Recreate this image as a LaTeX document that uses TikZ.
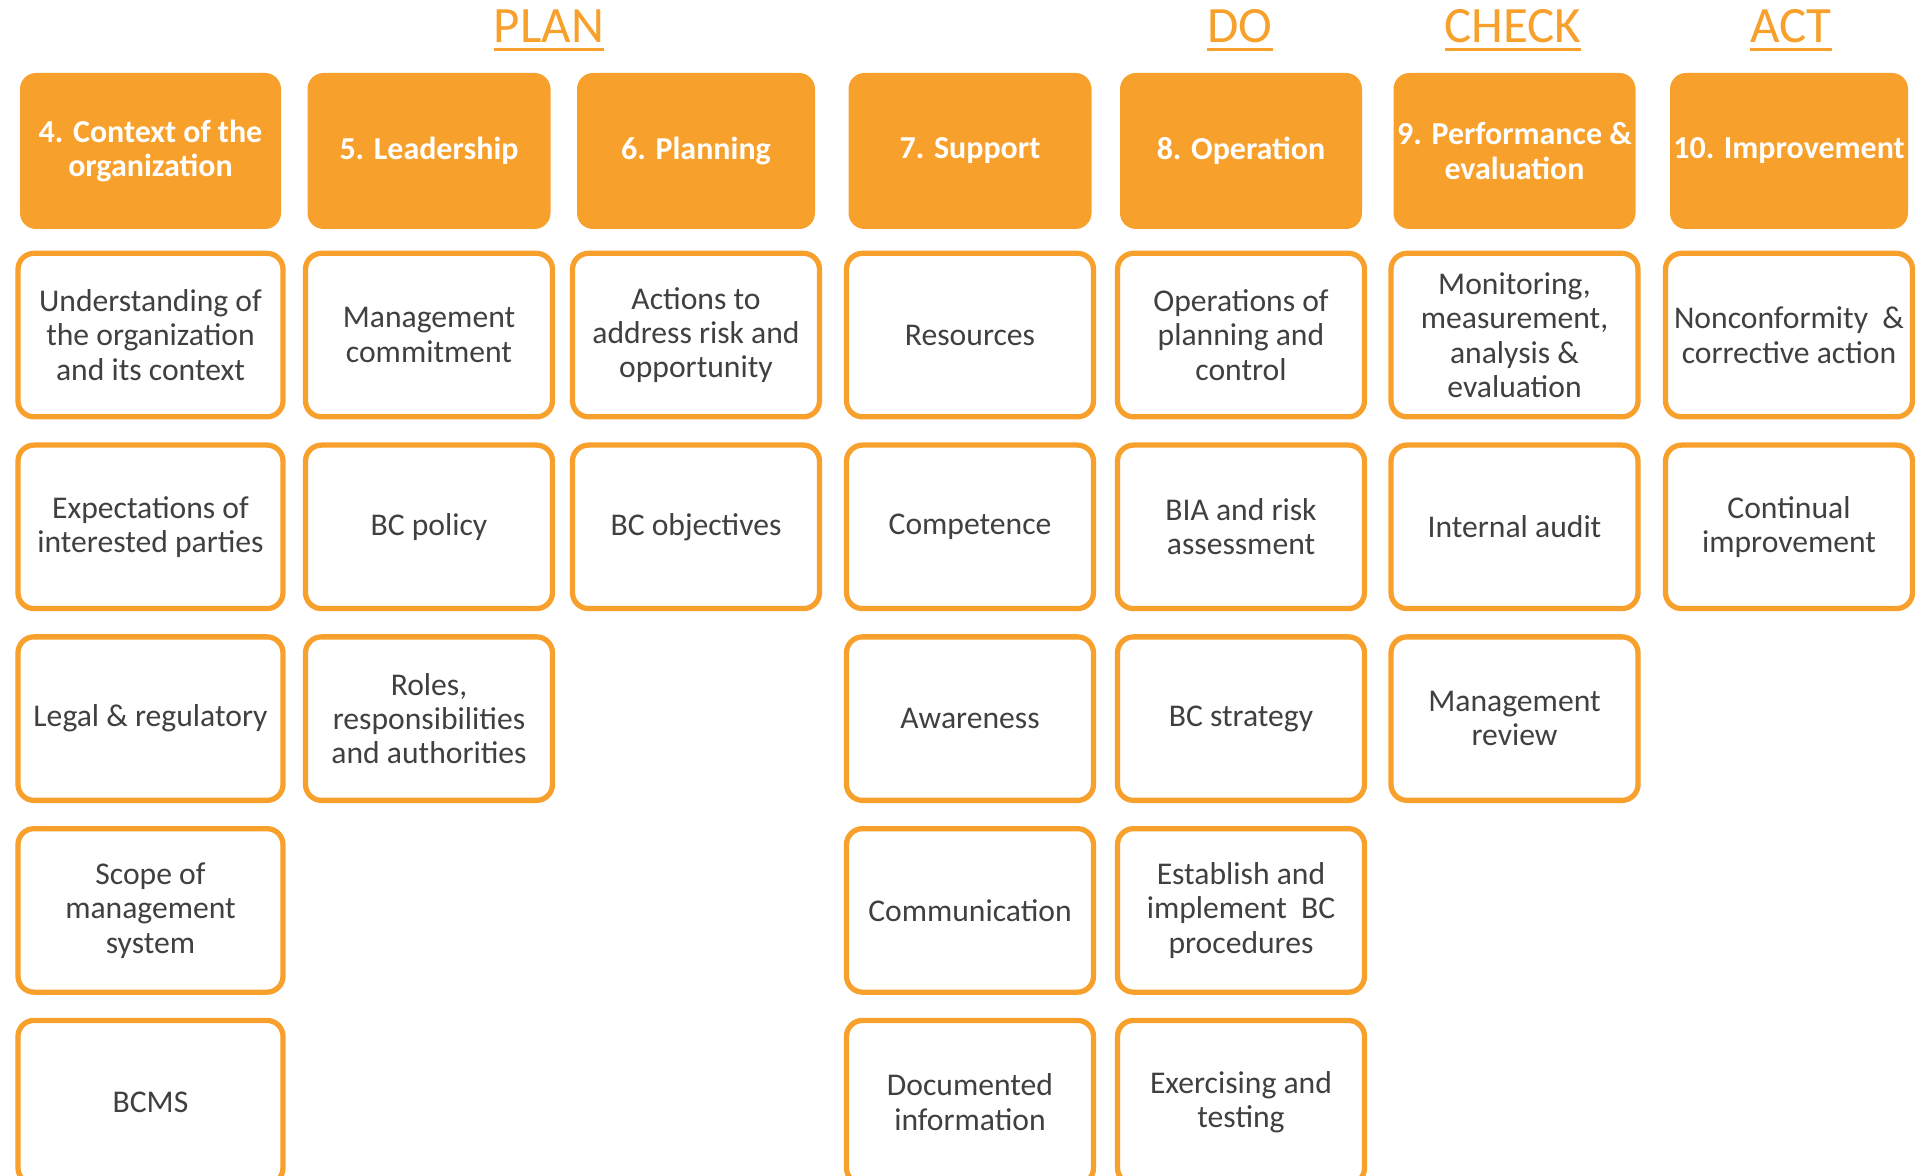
\documentclass[tikz,border=0pt]{standalone}
\usepackage{fontspec}
\setmainfont{Carlito}
\usepackage{tikz}
\usetikzlibrary{positioning}
\definecolor{pdcaorange}{HTML}{F8A02C}
\definecolor{txtgris}{HTML}{404040}
% phase title with a thick underline
\newcommand{\phul}[1]{\setbox0\hbox{#1}\rlap{\usebox0}\rule[-2.4pt]{\wd0}{1.1pt}}
\tikzset{
  clause/.style={rectangle, rounded corners=1.6mm, fill=pdcaorange, text=white,
                 align=center, font=\fontsize{9.1}{9.8}\selectfont\bfseries,
                 minimum height=1.56cm, inner sep=0pt},
  item/.style={rectangle, rounded corners=1.6mm, draw=pdcaorange, line width=1.5pt,
               fill=white, text=txtgris, align=center, font=\fontsize{9}{9.8}\selectfont,
               minimum width=2.47cm, minimum height=1.635cm, inner sep=0pt},
  phase/.style={anchor=base, text=pdcaorange, font=\fontsize{14.5}{17}\selectfont},
}

\begin{document}
\begin{tikzpicture}[node distance=2.3mm]
  \useasboundingbox (0,0) rectangle (19.17,-11.76);

  % PDCA phases
  \node[phase] (plan)  at (5.49,-0.43)  {\phul{PLAN}};
  \node[phase] (do)    at (12.40,-0.43) {\phul{DO}};
  \node[phase] (check) at (15.13,-0.43) {\phul{CHECK}};
  \node[phase] (act)   at (17.91,-0.43) {\phul{ACT}};

  % clauses 4 to 10
  \node[clause, minimum width=2.61cm] (c4)  at (1.505,-1.51) {4. Context of the\\organization};
  \node[clause, minimum width=2.43cm] (c5)  at (4.29,-1.51)  {5. Leadership};
  \node[clause, minimum width=2.38cm] (c6)  at (6.96,-1.51)  {6. Planning};
  \node[clause, minimum width=2.43cm] (c7)  at (9.70,-1.51)  {7. Support};
  \node[clause, minimum width=2.42cm] (c8)  at (12.41,-1.51) {8. Operation};
  \node[clause, minimum width=2.42cm] (c9)  at (15.145,-1.51) {9. Performance \&\\evaluation};
  \node[clause, minimum width=2.38cm] (c10) at (17.89,-1.51) {10. Improvement};

  % 4. context
  \node[item, minimum width=2.65cm, below=2.1mm of c4] (c4a) {Understanding of\\the organization\\and its context};
  \node[item, minimum width=2.65cm, below=of c4a] (c4b) {Expectations of\\interested parties};
  \node[item, minimum width=2.65cm, below=of c4b] (c4c) {Legal \& regulatory};
  \node[item, minimum width=2.65cm, below=of c4c] (c4d) {Scope of\\management\\system};
  \node[item, minimum width=2.65cm, below=of c4d] (c4e) {BCMS};

  % 5. leadership
  \node[item, below=2.1mm of c5] (c5a) {Management\\commitment};
  \node[item, below=of c5a] (c5b) {BC policy};
  \node[item, below=of c5b] (c5c) {Roles,\\responsibilities\\and authorities};

  % 6. planning
  \node[item, below=2.1mm of c6] (c6a) {Actions to\\address risk and\\opportunity};
  \node[item, below=of c6a] (c6b) {BC objectives};

  % 7. support
  \node[item, below=2.1mm of c7] (c7a) {Resources};
  \node[item, below=of c7a] (c7b) {Competence};
  \node[item, below=of c7b] (c7c) {Awareness};
  \node[item, below=of c7c] (c7d) {Communication};
  \node[item, below=of c7d] (c7e) {Documented\\information};

  % 8. operation
  \node[item, below=2.1mm of c8] (c8a) {Operations of\\planning and\\control};
  \node[item, below=of c8a] (c8b) {BIA and risk\\assessment};
  \node[item, below=of c8b] (c8c) {BC strategy};
  \node[item, below=of c8c] (c8d) {Establish and\\implement\ \ BC\\procedures};
  \node[item, below=of c8d] (c8e) {Exercising and\\testing};

  % 9. performance
  \node[item, below=2.1mm of c9] (c9a) {Monitoring,\\measurement,\\analysis \&\\evaluation};
  \node[item, below=of c9a] (c9b) {Internal audit};
  \node[item, below=of c9b] (c9c) {Management\\review};

  % 10. improvement
  \node[item, below=2.1mm of c10] (c10a) {Nonconformity\ \ \&\\corrective action};
  \node[item, below=of c10a] (c10b) {Continual\\improvement};
\end{tikzpicture}
\end{document}
